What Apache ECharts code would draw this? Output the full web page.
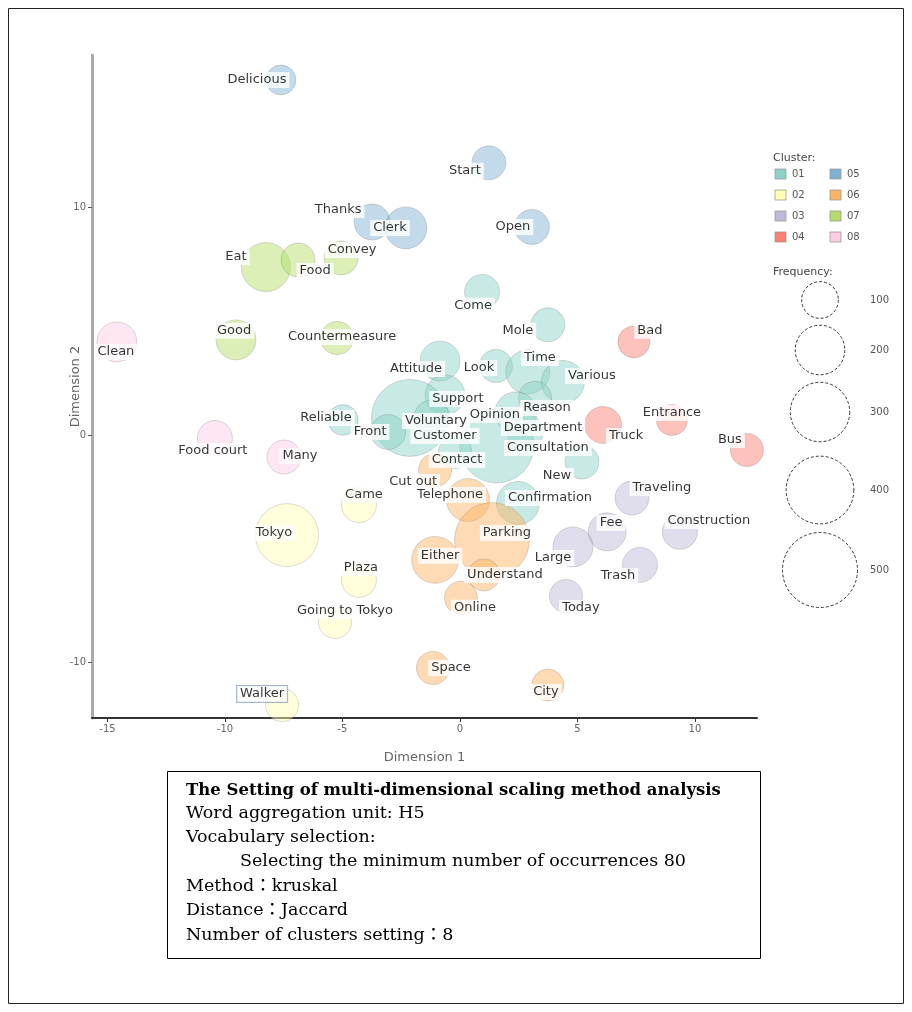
<!DOCTYPE html>
<html>
<head>
<meta charset="utf-8">
<script src="https://cdn.jsdelivr.net/npm/echarts@6/dist/echarts.min.js"></script>
<style>
html,body{margin:0;padding:0;background:#fff;}
#chart{width:912px;height:1012px;}
</style>
</head>
<body>
<div id="chart"></div>
<script>
// ---- data ----
const words = ["Come","Mole","Attitude","Look","Time","Various","Support","Reason","Opinion","Reliable","Customer","Voluntary","Front","Department","Consultation","Contact","New","Confirmation",
 "Tokyo","Came","Plaza","Going to Tokyo","Walker",
 "Traveling","Fee","Construction","Large","Trash","Today",
 "Bad","Truck","Entrance","Bus",
 "Delicious","Start","Thanks","Clerk","Open",
 "Cut out","Telephone","Parking","Either","Understand","Online","Space","City",
 "Eat","Food","Convey","Good","Countermeasure",
 "Clean","Food court","Many"];
const cluster = [1,1,1,1,1,1,1,1,1,1,1,1,1,1,1,1,1,1,
 2,2,2,2,2,
 3,3,3,3,3,3,
 4,4,4,4,
 5,5,5,5,5,
 6,6,6,6,6,6,6,6,
 7,7,7,7,7,
 8,8,8];
const dim1 = [0.94,3.74,-0.85,1.53,2.89,4.38,-0.64,3.19,2.38,-4.98,-2.13,-1.19,-3.06,2.77,1.57,-0.21,5.19,2.47,
 -7.36,-4.30,-4.30,-5.32,-7.57,
 7.32,6.26,9.36,4.81,7.66,4.51,
 7.40,6.09,9.02,12.21,
 -7.62,1.23,-3.74,-2.30,3.06,
 -1.06,0.34,1.36,-1.06,1.02,0.04,-1.15,3.74,
 -8.26,-6.89,-5.06,-9.53,-5.23,
 -14.60,-10.43,-7.49];
const dim2 = [6.29,4.84,3.25,3.03,2.77,2.33,1.76,1.63,0.97,0.66,0.75,0.75,0.13,0.13,-0.48,-0.75,-1.19,-2.99,
 -4.40,-3.08,-6.37,-8.22,-11.87,
 -2.77,-4.26,-4.26,-4.92,-5.71,-7.08,
 4.09,0.44,0.66,-0.66,
 15.60,11.96,9.36,9.10,9.14,
 -1.54,-2.86,-4.62,-5.49,-6.15,-7.16,-10.24,-10.99,
 7.38,7.69,7.78,4.18,4.26,
 4.09,-0.13,-0.97];
const freq = [89,83,122,78,153,145,122,78,137,65,529,96,89,96,486,78,83,145,
 342,89,89,78,78,
 83,109,89,122,89,78,
 72,102,67,78,
 61,83,96,137,89,
 78,145,500,177,72,78,78,72,
 195,83,83,122,78,
 122,89,83];
const clusterNames = ["01","02","03","04","05","06","07","08"];
const xTicks = [-15,-10,-5,0,5,10];
const yTicks = [-10,0,10];
const freqLegend = [100,200,300,400,500];

// ---- styles / label placement (pixels) ----
const colors = ['#8dd3c7','#ffffb3','#bebada','#fb8072','#80b1d3','#fdb462','#b3de69','#fccde5'];
const labelOffsets = {
 "Come":[-9,14],"Mole":[-30,6],"Attitude":[-24,8],"Look":[-17,2],"Time":[12,-14],"Various":[29,-6],
 "Support":[13,4],"Reason":[12,10],"Opinion":[-21,2],"Reliable":[-17,-2],"Customer":[35,18],"Voluntary":[4,3],
 "Front":[-18,0],"Department":[18,-4],"Consultation":[51,2],"Contact":[2,8],"New":[-25,14],"Confirmation":[32,-5],
 "Tokyo":[-13,-2],"Came":[5,-10],"Plaza":[2,-12],"Going to Tokyo":[10,-11],"Walker":[-20,-11],
 "Traveling":[30,-10],"Fee":[4,-9],"Construction":[29,-11],"Large":[-20,11],"Trash":[-22,11],"Today":[15,12],
 "Bad":[16,-11],"Truck":[23,11],"Entrance":[0,-7],"Bus":[-17,-10],
 "Delicious":[-24,0],"Start":[-24,8],"Thanks":[-34,-12],"Clerk":[-16,0],"Open":[-19,0],
 "Cut out":[-22,12],"Telephone":[-18,-5],"Parking":[15,-7],"Either":[5,-4],"Understand":[21,0],"Online":[14,10],"Space":[18,0],"City":[-2,7],
 "Eat":[-30,-10],"Food":[17,11],"Convey":[11,-8],"Good":[-2,-9],"Countermeasure":[5,-1],
 "Clean":[-1,10],"Food court":[-2,13],"Many":[16,-1]
};
function sizeOf(f){ return 5.7 + 3.1*Math.sqrt(f); }
function rgba(hex, a){
  const n = parseInt(hex.slice(1),16);
  return 'rgba('+((n>>16)&255)+','+((n>>8)&255)+','+(n&255)+','+a+')';
}

const seriesWords = [];
const series = clusterNames.map(function(cn, ci){
  const data = [];
  const names = [];
  for (let i=0;i<words.length;i++){
    if (cluster[i] !== ci+1) continue;
    const item = {name: words[i], value:[dim1[i], dim2[i], freq[i]]};
    if (words[i] === 'Walker') { item.label = {borderColor:'#8fa3ba', borderWidth:1}; }
    data.push(item);
    names.push(words[i]);
  }
  seriesWords.push(names);
  return {
    type:'scatter', name: cn, data: data,
    symbolSize: function(v){ return sizeOf(v[2]); },
    itemStyle:{color: rgba(colors[ci],0.6), borderColor:'rgba(90,90,90,0.35)', borderWidth:0.8},
    emphasis:{disabled:true},
    label:{show:true, position:'inside', formatter:'{b}', color:'#000', fontSize:13,
      fontFamily:'DejaVu Sans', backgroundColor:'#fff', padding:[2,3,1,3]},
    labelLayout:function(p){
      const o = labelOffsets[seriesWords[p.seriesIndex][p.dataIndex]] || [0,0];
      return {dx:o[0], dy:o[1], hideOverlap:false};
    }
  };
});

// ---- legend graphics ----
const graphics = [];
graphics.push({type:'rect', shape:{x:8.5,y:8.5,width:895,height:995}, style:{fill:'none', stroke:'#222', lineWidth:1}, silent:true, z:0});
graphics.push({type:'text', x:773, y:158, style:{text:'Cluster:', fill:'#444', font:'11px "DejaVu Sans"', textVerticalAlign:'middle'}});
const rowY = [174,195,216,237];
clusterNames.forEach(function(cn, i){
  const col = Math.floor(i/4), row = i%4;
  const x = col===0 ? 775 : 830;
  graphics.push({type:'rect', shape:{x:x, y:rowY[row]-5, width:11, height:10}, style:{fill:colors[i], stroke:'#999', lineWidth:0.8}});
  graphics.push({type:'text', x:x+17, y:rowY[row], style:{text:cn, fill:'#555', font:'10px "DejaVu Sans"', textVerticalAlign:'middle'}});
});
graphics.push({type:'text', x:773, y:272, style:{text:'Frequency:', fill:'#444', font:'11px "DejaVu Sans"', textVerticalAlign:'middle'}});
const legY = [300,350,412,490,570];
freqLegend.forEach(function(f, i){
  graphics.push({type:'circle', shape:{cx:820, cy:legY[i], r:sizeOf(f)/2}, style:{fill:'none', stroke:'#333', lineWidth:1, lineDash:[3,2]}});
  graphics.push({type:'text', x:870, y:legY[i], style:{text:String(f), fill:'#555', font:'10px "DejaVu Sans"', textVerticalAlign:'middle'}});
});
// settings box
graphics.push({type:'rect', shape:{x:167.5,y:771.5,width:593,height:187}, style:{fill:'#fff', stroke:'#000', lineWidth:1}});
const boxLines = [
  ['The Setting of multi-dimensional scaling method analysis', 186, 791, true],
  ['Word aggregation unit: H5', 186, 813, false],
  ['Vocabulary selection:', 186, 837, false],
  ['Selecting the minimum number of occurrences 80', 240, 861, false],
  ['Method\uff1akruskal', 186, 886, false],
  ['Distance\uff1aJaccard', 186, 910, false],
  ['Number of clusters setting\uff1a8', 186, 935, false]
];
boxLines.forEach(function(l){
  graphics.push({type:'text', x:l[1], y:l[2], style:{text:l[0], fill:'#000',
    font:(l[3]?'bold 16.5px ':'17.5px ')+'"DejaVu Serif", "Noto Sans CJK JP"', textVerticalAlign:'middle'}});
});

const chart = echarts.init(document.getElementById('chart'), null, {renderer:'canvas'});
chart.setOption({
  animation:false,
  backgroundColor:'#fff',
  grid:{left:92, right:155, top:55, bottom:294, containLabel:false},
  xAxis:{type:'value', min:-15.66, max:12.64, splitLine:{show:false},
    axisLine:{show:true, onZero:false, lineStyle:{color:'#333', width:2}},
    axisTick:{show:true, customValues:xTicks, length:4, lineStyle:{color:'#333'}},
    axisLabel:{customValues:xTicks, color:'#666', fontSize:10, margin:6, fontFamily:'DejaVu Sans'},
    name:'Dimension 1', nameLocation:'middle', nameGap:33, nameMoveOverlap:false,
    nameTextStyle:{color:'#666', fontSize:13, fontFamily:'DejaVu Sans'}},
  yAxis:{type:'value', min:-12.44, max:16.7, splitLine:{show:false},
    axisLine:{show:true, onZero:false, lineStyle:{color:'#aaa', width:3}},
    axisTick:{show:true, customValues:yTicks, length:4, lineStyle:{color:'#555'}},
    axisLabel:{customValues:yTicks, color:'#666', fontSize:10, margin:6, fontFamily:'DejaVu Sans'},
    name:'Dimension 2', nameLocation:'middle', nameGap:10, nameRotate:90, nameMoveOverlap:false,
    nameTextStyle:{color:'#666', fontSize:13, fontFamily:'DejaVu Sans'}},
  series: series,
  graphic: graphics
});
</script>
</body>
</html>
